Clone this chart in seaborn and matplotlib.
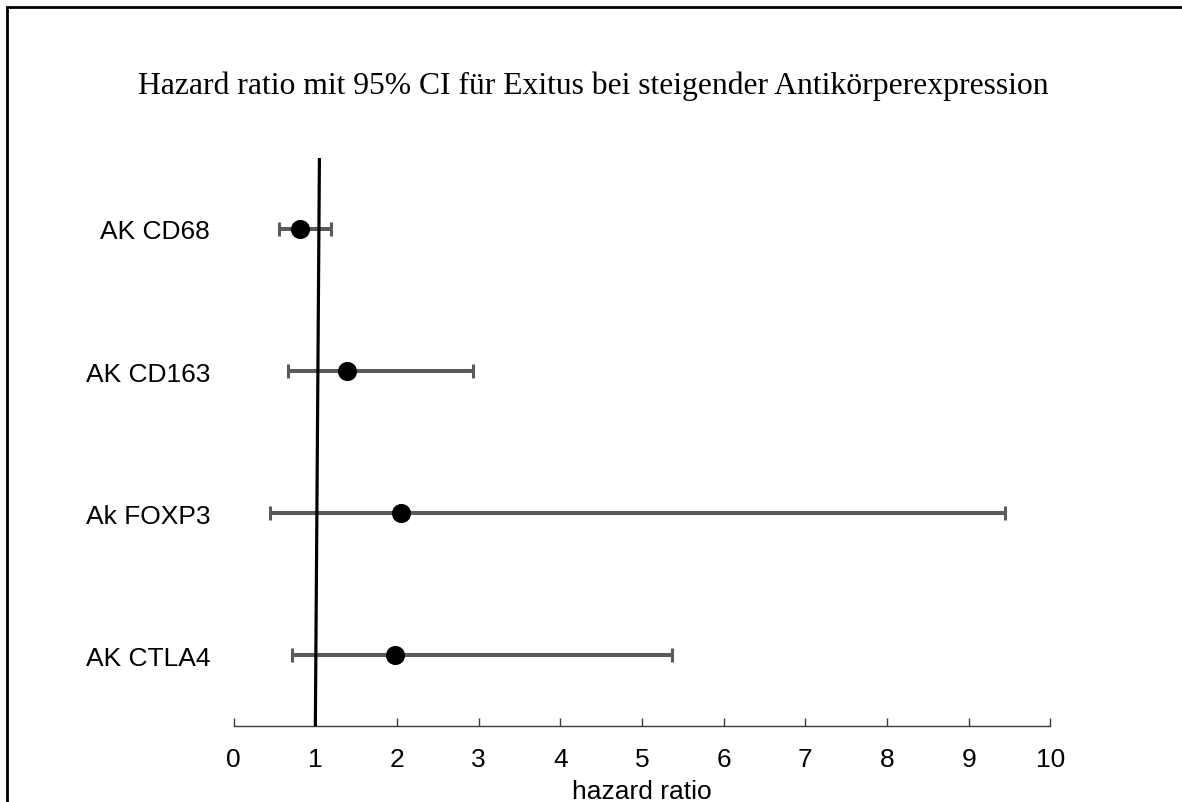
import matplotlib
matplotlib.use("Agg")
import matplotlib.pyplot as plt
import matplotlib.patches as mpatches
import seaborn as sns
import pandas as pd

# values
markers = ["AK CD68", "AK CD163", "Ak FOXP3", "AK CTLA4"]
hazard_ratio = [0.81, 1.39, 2.05, 1.97]
ci_lower = [0.55, 0.66, 0.44, 0.72]
ci_upper = [1.19, 2.93, 9.44, 5.37]
x_ticks = [0, 1, 2, 3, 4, 5, 6, 7, 8, 9, 10]
# reference line (HR = 1), bottom / top end as drawn in the original
null_line_x = [1.0, 1.05]

title = "Hazard ratio mit 95% CI für Exitus bei steigender Antikörperexpression"

df = pd.DataFrame({"marker": markers, "hr": hazard_ratio, "lo": ci_lower, "hi": ci_upper})
df["pos"] = range(len(df))

sns.set_style("white")
plt.rcParams["font.family"] = ["Liberation Sans", "DejaVu Sans"]
plt.rcParams["text.color"] = "black"
plt.rcParams["axes.labelcolor"] = "black"
plt.rcParams["xtick.labelcolor"] = "black"
plt.rcParams["ytick.labelcolor"] = "black"

fig = plt.figure(figsize=(11.82, 8.03), dpi=100)
ax = fig.add_axes([0.1977, 0.0946, 0.6909, 0.7074])

# frame around the whole picture (cut off at right and bottom like the original)
fig.patches.append(mpatches.Rectangle((7 / 1182, -0.05), 1.2, 1 - 8 / 803 + 0.05,
                                      transform=fig.transFigure, fill=False,
                                      edgecolor="black", linewidth=2.0, zorder=0))

ax.errorbar(df["hr"], df["pos"],
            xerr=[df["hr"] - df["lo"], df["hi"] - df["hr"]],
            fmt="none", ecolor="#5a5a5a", elinewidth=2.9, capsize=4.7, capthick=2.2,
            zorder=2)
ax.plot(null_line_x, [3.5, -0.5], color="black", linewidth=2.3, zorder=3)
sns.scatterplot(data=df, x="hr", y="pos", color="black", s=190, edgecolor="black",
                linewidth=0, zorder=4, ax=ax)

ax.set_xlim(0, 10)
ax.set_ylim(3.5, -0.5)
ax.set_xticks(x_ticks)
ax.set_xticklabels([str(t) for t in x_ticks])
ax.set_yticks(df["pos"])
ax.set_yticklabels(markers)

for side in ["top", "right", "left"]:
    ax.spines[side].set_visible(False)
ax.spines["bottom"].set_color("#3a3a3a")
ax.spines["bottom"].set_linewidth(1.0)

ax.tick_params(axis="x", direction="in", length=6, width=1, color="#3a3a3a",
               labelsize=19, pad=15, bottom=True)
ax.tick_params(axis="y", length=0, labelsize=19, pad=17)
ax.set_xlabel("hazard ratio", fontsize=19, labelpad=6)
ax.set_ylabel("")

fig.text(0.502, 0.893, title, ha="center", va="center", color="black",
         family=["Liberation Serif", "DejaVu Serif"], fontsize=22.8)

fig.savefig("out.png", dpi=100)
